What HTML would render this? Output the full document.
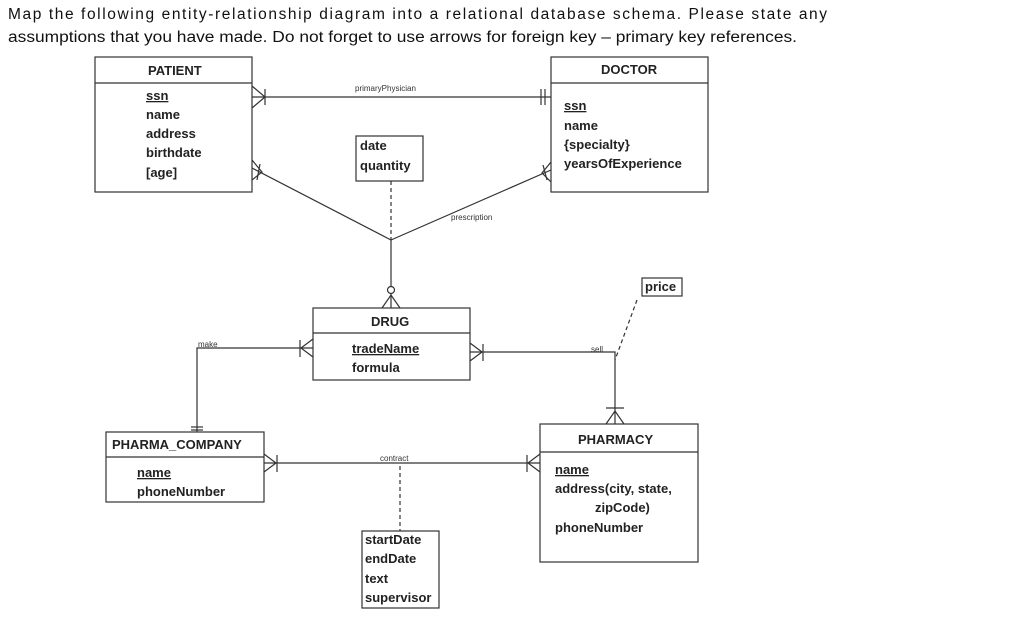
<!DOCTYPE html>
<html><head><meta charset="utf-8"><style>
body{margin:0;background:#fff;width:1024px;height:621px;overflow:hidden}
svg{display:block}
.t{font-family:"Liberation Sans",sans-serif;font-size:13px;font-weight:bold;fill:#222}
.s{font-family:"Liberation Sans",sans-serif;font-size:8px;fill:#333}
.h{font-family:"Liberation Sans",sans-serif;font-size:15.5px;fill:#111}
</style></head><body>
<svg width="1024" height="621" viewBox="0 0 1024 621">
<text class="h" x="8" y="19" textLength="819" lengthAdjust="spacing">Map the following entity-relationship diagram into a relational database schema. Please state any</text>
<text class="h" x="8" y="42" textLength="789" lengthAdjust="spacingAndGlyphs">assumptions that you have made. Do not forget to use arrows for foreign key – primary key references.</text>
<g stroke="#333" stroke-width="1.2" fill="none">
<!-- PATIENT -->
<rect x="95" y="57" width="157" height="135"/><line x1="95" y1="83" x2="252" y2="83"/>
<!-- DOCTOR -->
<rect x="551" y="57" width="157" height="135"/><line x1="551" y1="83" x2="708" y2="83"/>
<!-- primaryPhysician -->
<line x1="252" y1="97" x2="551" y2="97"/>
<polyline points="252,86 265,97 252,108"/><line x1="265" y1="89" x2="265" y2="105"/>
<line x1="541" y1="89" x2="541" y2="105"/><line x1="545" y1="89" x2="545" y2="105"/>
<!-- date box -->
<rect x="356" y="136" width="67" height="45"/>
<line x1="391" y1="181" x2="391" y2="240" stroke-dasharray="4,3"/>
<line x1="252" y1="168" x2="391" y2="240"/><line x1="551" y1="170" x2="391" y2="240"/>
<polyline points="252,160 262,172 252,180" /><line x1="260" y1="164" x2="257" y2="180"/>
<polyline points="551,162 542,173 551,182"/><line x1="543" y1="165" x2="547" y2="180"/>
<line x1="391" y1="240" x2="391" y2="308"/>
<circle cx="391" cy="290" r="3.5" fill="#fff"/>
<polyline points="382,308 391,295 400,308"/>
<!-- DRUG -->
<rect x="313" y="308" width="157" height="72"/><line x1="313" y1="333" x2="470" y2="333"/>
<!-- price -->
<rect x="642" y="278" width="40" height="18"/>
<line x1="637" y1="300" x2="615" y2="360" stroke-dasharray="4,3"/>
<!-- make -->
<polyline points="313,348 197,348 197,432"/>
<polyline points="313,339 301,348 313,357"/><line x1="300" y1="340" x2="300" y2="357"/>
<line x1="191" y1="427" x2="203" y2="427"/><line x1="191" y1="430" x2="203" y2="430"/>
<!-- sell -->
<polyline points="470,352 615,352 615,424"/>
<polyline points="470,343 482,352 470,361"/><line x1="483" y1="344" x2="483" y2="361"/>
<polyline points="606,424 615,411 624,424"/><line x1="606" y1="408" x2="624" y2="408"/>
<!-- PHARMA_COMPANY -->
<rect x="106" y="432" width="158" height="70"/><line x1="106" y1="457" x2="264" y2="457"/>
<!-- PHARMACY -->
<rect x="540" y="424" width="158" height="138"/><line x1="540" y1="452" x2="698" y2="452"/>
<!-- contract -->
<line x1="264" y1="463" x2="540" y2="463"/>
<polyline points="264,454 276,463 264,472"/><line x1="277" y1="455" x2="277" y2="472"/>
<polyline points="540,454 528,463 540,472"/><line x1="527" y1="455" x2="527" y2="472"/>
<line x1="400" y1="466" x2="400" y2="531" stroke-dasharray="4,3"/>
<rect x="362" y="531" width="77" height="77"/>
</g>
<g class="t">
<text x="148" y="75">PATIENT</text>
<text x="146" y="100" text-decoration="underline">ssn</text>
<text x="146" y="119">name</text><text x="146" y="138">address</text><text x="146" y="157">birthdate</text><text x="146" y="177">[age]</text>
<text x="601" y="74">DOCTOR</text>
<text x="564" y="110" text-decoration="underline">ssn</text>
<text x="564" y="130">name</text><text x="564" y="149">{specialty}</text><text x="564" y="168">yearsOfExperience</text>
<text x="360" y="150">date</text><text x="360" y="170">quantity</text>
<text x="371" y="326">DRUG</text>
<text x="352" y="353" text-decoration="underline">tradeName</text><text x="352" y="372">formula</text>
<text x="645" y="291">price</text>
<text x="112" y="449">PHARMA_COMPANY</text>
<text x="137" y="477" text-decoration="underline">name</text><text x="137" y="496">phoneNumber</text>
<text x="578" y="444">PHARMACY</text>
<text x="555" y="474" text-decoration="underline">name</text>
<text x="555" y="493">address(city, state,</text>
<text x="595" y="512">zipCode)</text>
<text x="555" y="532">phoneNumber</text>
<text x="365" y="544">startDate</text><text x="365" y="563">endDate</text><text x="365" y="583">text</text><text x="365" y="602">supervisor</text>
</g>
<g class="s">
<text x="355" y="91">primaryPhysician</text>
<text x="451" y="220">prescription</text>
<text x="198" y="347">make</text>
<text x="591" y="352">sell</text>
<text x="380" y="461">contract</text>
</g>
</svg>
</body></html>
